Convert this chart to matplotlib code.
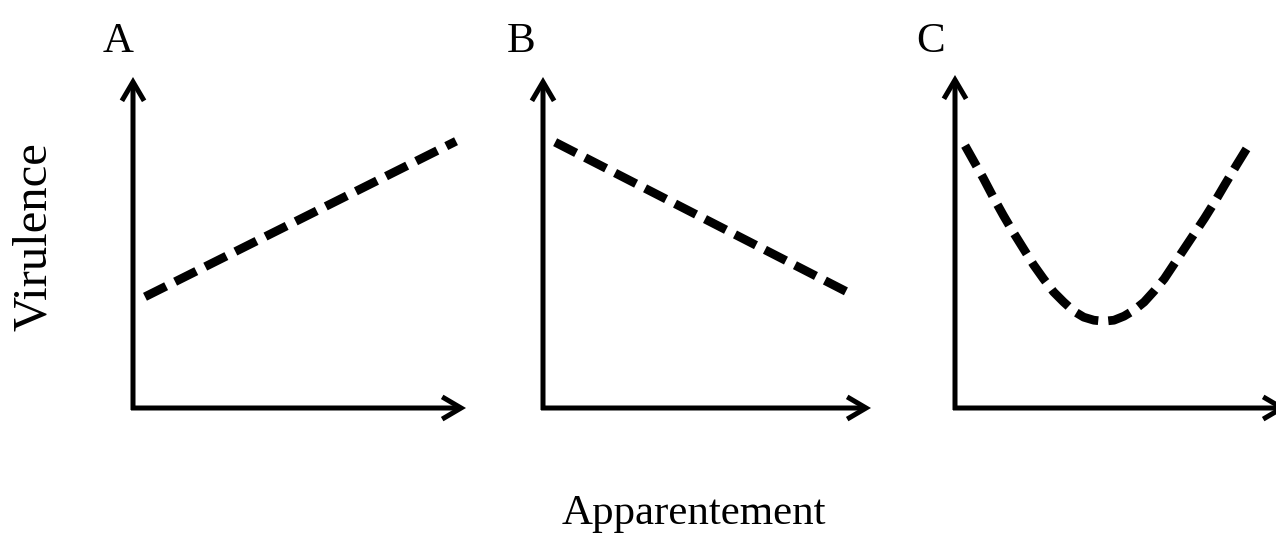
import matplotlib
matplotlib.use("Agg")
import matplotlib.pyplot as plt

W, H = 1276, 543

# ---- data (axes units 0..1) ----
panel_labels = ["A", "B", "C"]
xlabel = "Apparentement"
ylabel = "Virulence"

a_x = [0.036, 0.970]
a_y = [0.336, 0.806]

b_x = [0.037, 0.946]
b_y = [0.803, 0.341]

c_px = [965, 974, 983, 993, 1003, 1013, 1023, 1033, 1043, 1053, 1063, 1073, 1083,
        1093, 1103, 1113, 1123, 1133, 1143, 1153, 1163, 1173, 1183, 1193, 1203,
        1213, 1223, 1235, 1248]
c_py = [148, 164, 180, 199, 217, 234, 250, 266, 280, 293, 303, 312, 318,
        321, 322, 321, 317, 311, 303, 292, 280, 265, 250, 235, 220,
        204, 187, 167, 146]
c_x = [(p - 955) / 330 for p in c_px]
c_y = [(408 - p) / 330 for p in c_py]

series = [(a_x, a_y), (b_x, b_y), (c_x, c_y)]

# axes placement in pixel coordinates: (left, right, bottom(origin y), top)
panels = [(133, 466, 408, 77), (543, 871, 408, 77), (955, 1287, 408, 75)]
label_pos = [(118, 42), (521, 42), (931, 42)]

FONT = "Liberation Serif"

fig = plt.figure(figsize=(W / 100, H / 100), dpi=100)
fig.patch.set_facecolor("white")

for (l, r, b, t), (xs, ys), lab, (lx, ly) in zip(panels, series, panel_labels, label_pos):
    ax = fig.add_axes([l / W, 1 - b / H, (r - l) / W, (b - t) / H])
    ax.set_xlim(0, 1)
    ax.set_ylim(0, 1)
    ax.axis("off")
    ax.plot(xs, ys, color="black", lw=6.3, linestyle=(0, (2.7, 1.15)),
            solid_capstyle="butt", dash_capstyle="butt", clip_on=False)
    arrow = dict(arrowstyle="->,head_length=0.68,head_width=0.4", lw=3.6,
                 color="black", mutation_scale=20, shrinkA=0, shrinkB=0,
                 joinstyle="miter", capstyle="butt")
    ax.annotate("", xy=(1, 0), xytext=(-0.006, 0), xycoords="axes fraction",
                arrowprops=arrow, annotation_clip=False)
    ax.annotate("", xy=(0, 1), xytext=(0, -0.006), xycoords="axes fraction",
                arrowprops=arrow, annotation_clip=False)
    fig.text(lx / W, 1 - ly / H, lab, family=FONT, fontsize=31,
             ha="center", va="center")

fig.text(34 / W, 1 - 237 / H, ylabel, family=FONT, fontsize=35,
         rotation=90, ha="center", va="center")
fig.text(694 / W, 1 - 514 / H, xlabel, family=FONT, fontsize=31,
         ha="center", va="center")

fig.savefig("out.png", dpi=100, facecolor="white")
